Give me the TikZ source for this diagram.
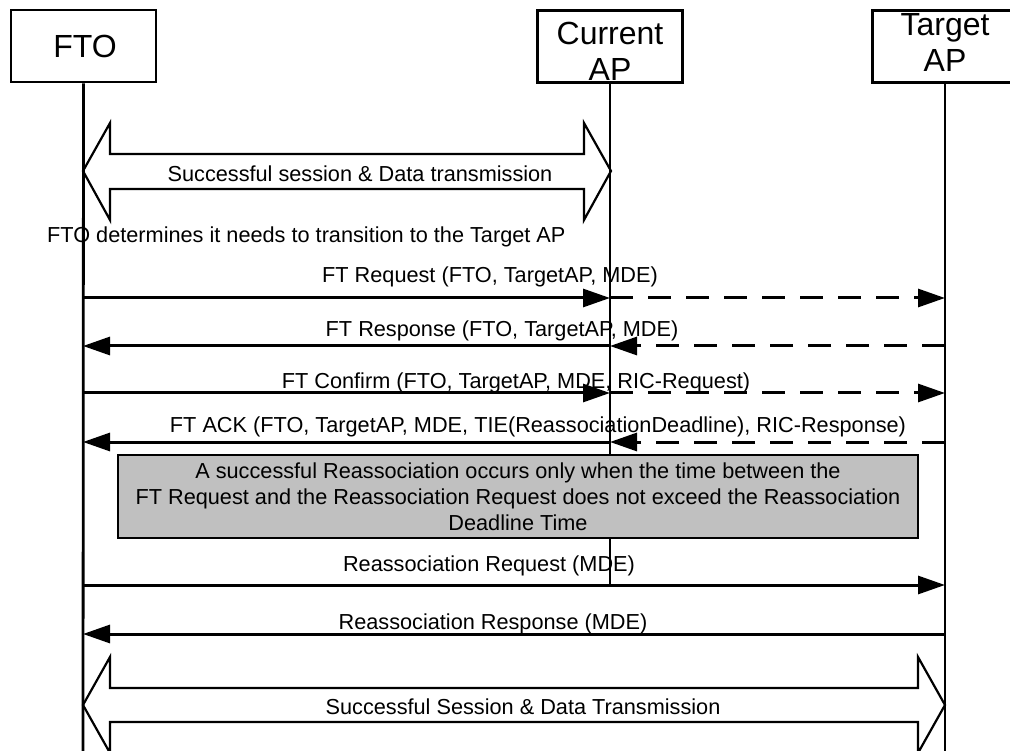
\documentclass[tikz,border=0pt]{standalone}
\usepackage{fontspec}
\setmainfont{Liberation Sans}
\usetikzlibrary{arrows.meta}
\begin{document}
\begin{tikzpicture}[x=1pt,y=-1pt,
  hdr/.style={draw, line width=2.8pt, minimum width=145pt, minimum height=72pt, inner sep=0pt},
  hdrtxt/.style={font=\fontsize{32}{36}\selectfont, align=center, inner sep=0pt},
  life/.style={line width=2.8pt},
  msg/.style={line width=3pt, -{Triangle[length=27pt,width=18pt]}},
  dmsg/.style={msg, dash pattern=on 23pt off 15pt},
  lbl/.style={font=\fontsize{21.7}{26}\selectfont, inner sep=0pt},
  big/.style={line width=2.2pt, line join=miter},
  note/.style={draw, line width=2.8pt, fill={rgb,255:red,192;green,192;blue,192}, minimum width=800pt, minimum height=83pt, inner sep=0pt, align=center, font=\fontsize{21.7}{26}\selectfont}]
\useasboundingbox (0,0) rectangle (1010,751);
\fill[white] (0,0) rectangle (1010,751);

% header boxes
\node[hdr] (fto) at (83.5,46) {};
\node[hdrtxt] (ftot) at (85,46) {FTO};
\node[hdr] (cur) at (610,46.5) {};
\node[hdrtxt] (curt) at (610,51) {Current\\AP};
\node[hdr] (tgt) at (945,46.5) {};
\node[hdrtxt] (tgtt) at (945,42) {Target\\AP};

% coordinates on lifelines
\coordinate (fend) at (83,751);
\coordinate (cend) at (610,585);
\coordinate (tend) at (945,751);

% first double arrow (session)
\draw[big] (83,171) -- (110,123) -- (110,154) -- (584,154) -- (584,123) -- (611,171)
  -- (584,220) -- (584,189) -- (110,189) -- (110,220) -- cycle;
\node[lbl] (s1) at (360,174) {Successful session \& Data transmission};

% second double arrow
\draw[big] (83,705) -- (110,657) -- (110,688) -- (918,688) -- (918,657) -- (945,705)
  -- (918,753) -- (918,722) -- (110,722) -- (110,753) -- cycle;
\node[lbl] (s2) at (523,707) {Successful Session \& Data Transmission};

% lifelines
\draw[life] (fto.south) -- (fend);
\draw[life] (cur.south) -- (cend);
\draw[life] (tgt.south) -- (tend);

\node[lbl, anchor=west] (det) at (47,237) {FTO determines it needs to transition to the Target AP};

% message coordinates
\coordinate (f1) at (83,298);  \coordinate (c1) at (610,298);  \coordinate (t1) at (945,298);
\coordinate (f2) at (83,346);  \coordinate (c2) at (610,346);  \coordinate (t2) at (945,346);
\coordinate (f3) at (83,393);  \coordinate (c3) at (610,393);  \coordinate (t3) at (945,393);
\coordinate (f4) at (83,442);  \coordinate (c4) at (610,442);  \coordinate (t4) at (945,442);
\coordinate (f5) at (83,585);  \coordinate (t5) at (945,585);
\coordinate (f6) at (83,634);  \coordinate (t6) at (945,634);

% FT Request
\draw[msg] (f1) -- (c1);
\draw[dmsg] (c1) -- (t1);
\node[lbl] (l1) at (490,277) {FT Request (FTO, TargetAP, MDE)};
% FT Response
\draw[dmsg] (t2) -- (c2);
\draw[msg] (c2) -- (f2);
\node[lbl] (l2) at (502,331) {FT Response (FTO, TargetAP, MDE)};
% FT Confirm
\draw[msg] (f3) -- (c3);
\draw[dmsg] (c3) -- (t3);
\node[lbl] (l3) at (516,383) {FT Confirm (FTO, TargetAP, MDE, RIC-Request)};
% FT ACK
\draw[dmsg] (t4) -- (c4);
\draw[msg] (c4) -- (f4);
\node[lbl] (l4) at (538,427) {FT ACK (FTO, TargetAP, MDE, TIE(ReassociationDeadline), RIC-Response)};

% note
\node[note] (nt) at (518,496.5) {A successful Reassociation occurs only when the time between the\\FT Request and the Reassociation Request does not exceed the Reassociation\\Deadline Time};

% Reassociation
\draw[msg] (f5) -- (t5);
\node[lbl] (l5) at (489,566) {Reassociation Request (MDE)};
\draw[msg] (t6) -- (f6);
\node[lbl] (l6) at (493,624) {Reassociation Response (MDE)};
\end{tikzpicture}
\end{document}
